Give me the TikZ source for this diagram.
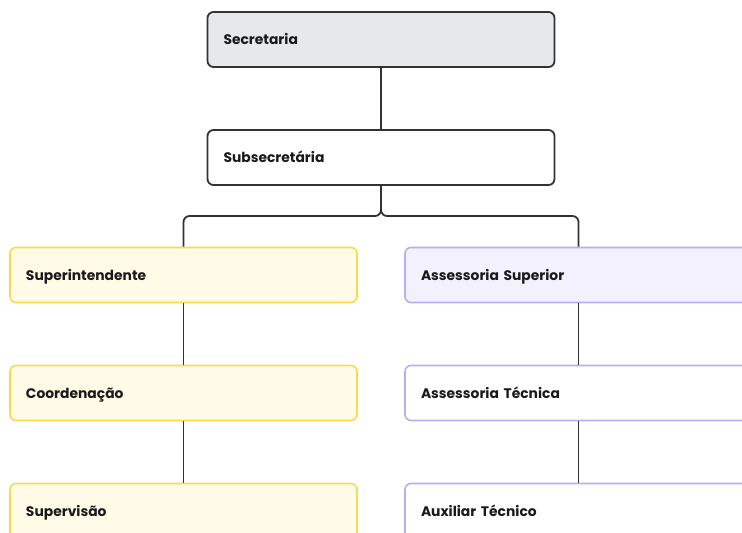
\documentclass[tikz,border=0pt]{standalone}
\usepackage{fontspec}
\setmainfont{Poppins}
\definecolor{edgedark}{HTML}{333333}
\definecolor{grayfill}{HTML}{E7E8E9}
\definecolor{yelline}{HTML}{F7DA52}
\definecolor{yelfill}{HTML}{FFFBE6}
\definecolor{purline}{HTML}{B8AEF6}
\definecolor{purfill}{HTML}{F3F1FE}
\definecolor{txt}{HTML}{1A1A1A}
\tikzset{
  box/.style={rounded corners=4.5pt, line width=1.2pt, minimum width=260.25pt,
    minimum height=41.25pt, text width=236.25pt, inner xsep=12pt, align=left,
    text height=8.8pt, text depth=1.0pt,
    anchor=center, text=txt, font=\bfseries\fontsize{10.4}{12}\selectfont},
  darkbox/.style={box, draw=edgedark, line width=1.35pt},
  yelbox/.style={box, draw=yelline},
  purbox/.style={box, draw=purline},
  conn/.style={draw=edgedark, line width=1.35pt}
}
\begin{document}
\begin{tikzpicture}[x=0.75pt,y=-0.75pt]
\useasboundingbox (0,0) rectangle (742,532);
\clip (0,0) rectangle (742,532);
\node[darkbox, fill=grayfill] (sec) at (381,39.5) {Secretaria};
\node[darkbox, fill=white] (sub) at (381,157.5) {Subsecretária};
\node[yelbox, fill=yelfill] (sup) at (183.5,275) {Superintendente};
\node[purbox, fill=purfill] (ass) at (578.5,275) {Assessoria Superior};
\node[yelbox, fill=yelfill] (coo) at (183.5,393) {Coordenação};
\node[purbox, fill=white] (ast) at (578.5,393) {Assessoria Técnica};
\node[yelbox, fill=yelfill] (spv) at (183.5,511) {Supervisão};
\node[purbox, fill=white] (aux) at (578.5,511) {Auxiliar Técnico};
\coordinate (bl) at (183.5,216);
\coordinate (br) at (578.5,216);
\draw[conn] (sec) -- (sub);
\draw[conn, rounded corners=4.5pt] (sub.south) |- (bl) -- (sup.north);
\draw[conn, rounded corners=4.5pt] (sub.south) |- (br) -- (ass.north);
\draw[conn] (sup) -- (coo);
\draw[conn] (coo) -- (spv);
\draw[conn] (ass) -- (ast);
\draw[conn] (ast) -- (aux);
\end{tikzpicture}
\end{document}
